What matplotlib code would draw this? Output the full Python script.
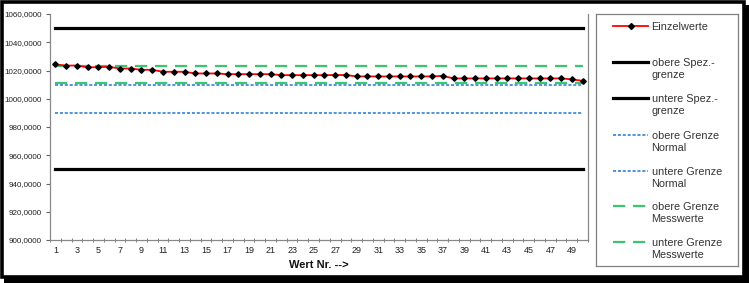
import numpy as np
import matplotlib
matplotlib.use('Agg')
import matplotlib.pyplot as plt
from matplotlib.ticker import FuncFormatter, MultipleLocator
from matplotlib.patches import Rectangle

plt.rcParams['font.family'] = ['Liberation Sans', 'DejaVu Sans']

# Data
wert_nr = list(range(1, 51))
einzelwerte = [1024.3, 1023.5, 1023.5, 1022.2, 1022.4, 1022.6, 1021.4, 1021.4,
               1020.5, 1020.5, 1019.1, 1019.1, 1019.1, 1017.9, 1017.9, 1017.9,
               1017.4, 1017.4, 1017.4, 1017.4, 1017.4, 1016.7, 1016.7, 1016.7,
               1016.7, 1016.7, 1016.8, 1016.8, 1015.8, 1015.8, 1015.8, 1015.8,
               1015.8, 1015.8, 1015.8, 1015.8, 1016.2, 1014.4, 1014.4, 1014.4,
               1014.4, 1014.4, 1014.4, 1014.4, 1014.4, 1014.4, 1014.4, 1014.4,
               1013.7, 1012.7]
obere_spez = 1050.0
untere_spez = 950.0
obere_normal = 1010.0
untere_normal = 990.0
obere_mess = 1023.3
untere_mess = 1011.1

labels = ['Einzelwerte', 'obere Spez.-\ngrenze', 'untere Spez.-\ngrenze',
          'obere Grenze\nNormal', 'untere Grenze\nNormal',
          'obere Grenze\nMesswerte', 'untere Grenze\nMesswerte']

W, H = 749, 283
fig = plt.figure(figsize=(W / 100, H / 100), dpi=100)

def px(x0, y0, x1, y1):
    # pixel box (top-down) -> figure rect
    return [x0 / W, 1 - y1 / H, (x1 - x0) / W, (y1 - y0) / H]

ax = fig.add_axes(px(50, 14, 588, 240))

# styles
s_val = dict(color='#ff0000', lw=1.3, marker='D', markersize=2.8,
             markerfacecolor='black', markeredgecolor='black')
s_spec = dict(color='black', lw=2.3)
s_norm = dict(color='#1f78d1', lw=1.1, linestyle=(0, (2, 1.2)))
s_mess = dict(color='#3cc46e', lw=1.6, linestyle=(0, (5.5, 3.5)))

n = len(wert_nr)
ax.plot(wert_nr, [obere_spez] * n, **s_spec)
ax.plot(wert_nr, [untere_spez] * n, **s_spec)
ax.plot(wert_nr, [obere_normal] * n, **s_norm)
ax.plot(wert_nr, [untere_normal] * n, **s_norm)
ax.plot(wert_nr, [obere_mess] * n, **s_mess)
ax.plot(wert_nr, [untere_mess] * n, **s_mess)
ax.plot(wert_nr, einzelwerte, **s_val)

ax.set_xlim(0.5, 50.5)
ax.set_ylim(900, 1060)
ax.yaxis.set_major_locator(MultipleLocator(20))
ax.yaxis.set_major_formatter(FuncFormatter(lambda v, p: f'{v:.4f}'.replace('.', ',')))
ax.set_xticks(range(1, 51, 2))
ax.set_xticks(np.arange(0.5, 51, 1), minor=True)
ax.tick_params(axis='x', which='major', length=0, labelsize=6.5, pad=4, colors='#222222')
ax.tick_params(axis='x', which='minor', length=2.5, direction='inout', color='#666666')
ax.tick_params(axis='y', length=3, labelsize=5.8, pad=3, colors='#222222', color='#666666')

ax.spines['top'].set_visible(False)
for side in ['left', 'bottom', 'right']:
    ax.spines[side].set_color('#888888')
    ax.spines[side].set_linewidth(0.9)

ax.set_xlabel('Wert Nr. -->', fontsize=8, fontweight='bold', labelpad=4, color='#111111')

# legend box drawn by hand
lax = fig.add_axes(px(596, 14, 738, 266))
lax.set_xlim(596, 738)
lax.set_ylim(266, 14)
lax.set_xticks([])
lax.set_yticks([])
for sp in lax.spines.values():
    sp.set_color('#808080')
    sp.set_linewidth(0.9)

styles = [s_val, s_spec, s_spec, s_norm, s_norm, s_mess, s_mess]
rows_y = [26, 62, 98, 135, 171, 206, 242]
for lab, st, yy in zip(labels, styles, rows_y):
    st2 = dict(st)
    if 'marker' in st2:
        lax.plot([613, 648], [yy, yy], color=st2['color'], lw=st2['lw'])
        lax.plot([630.5], [yy], marker='D', markersize=3, color='black')
    else:
        lax.plot([613, 648], [yy, yy], **st2)
    lax.text(651.5, yy - 4.3, lab, fontsize=7.8, va='top', ha='left',
             linespacing=1.25, color='#333333')

# outer frame
fig.add_artist(Rectangle((1.5 / W, 1 - 277 / H), 742 / W, 275.5 / H,
                         transform=fig.transFigure, fill=False,
                         edgecolor='black', lw=2.6))
fig.add_artist(Rectangle((4 / W, 0), 745 / W, 5 / H,
                         transform=fig.transFigure, color='black', lw=0))
fig.add_artist(Rectangle((745 / W, 0), 4 / W, 278 / H,
                         transform=fig.transFigure, color='black', lw=0))

fig.savefig('out.png', dpi=100)
